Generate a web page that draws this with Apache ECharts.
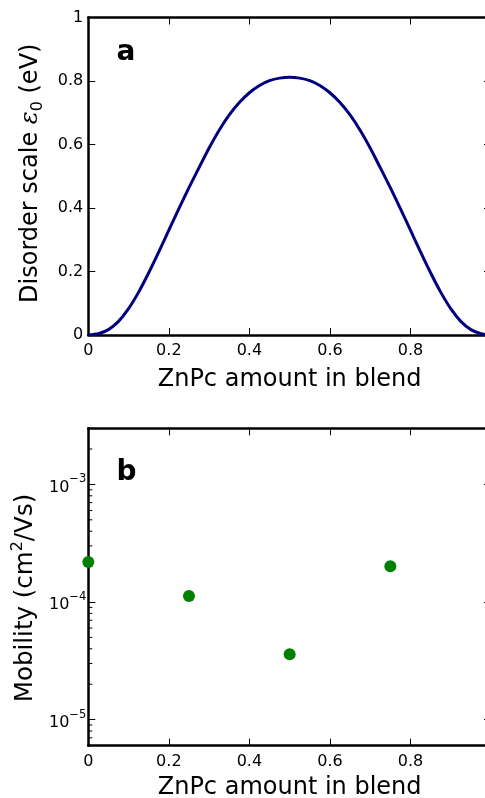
<!DOCTYPE html>
<html><head><meta charset="utf-8">
<script src="https://cdn.jsdelivr.net/npm/echarts@6/dist/echarts.min.js"></script>
<style>html,body{margin:0;padding:0;background:#fff}#c{width:485px;height:798px}</style>
</head><body><div id="c"></div>
<script>
// ---- data ----
const blendX = [0,0.025,0.05,0.075,0.1,0.125,0.15,0.175,0.2,0.225,0.25,0.275,0.3,0.325,0.35,0.375,0.4,0.425,0.45,0.475,0.5,
  0.525,0.55,0.575,0.6,0.625,0.65,0.675,0.7,0.725,0.75,0.775,0.8,0.825,0.85,0.875,0.9,0.925,0.95,0.975,1];
const disorder = [0,0.004,0.017,0.043,0.083,0.135,0.196,0.262,0.330,0.398,0.464,0.527,0.589,0.645,0.693,0.732,0.763,0.786,0.801,0.809,0.812,
  0.809,0.801,0.786,0.763,0.732,0.693,0.645,0.589,0.527,0.464,0.398,0.330,0.262,0.196,0.135,0.083,0.043,0.017,0.004,0];
const mobilityX = [0,0.25,0.5,0.75];
const mobility = [2.19e-4,1.125e-4,3.6e-5,2.01e-4];
const xTickLabels = ['0','0.2','0.4','0.6','0.8','1'];
const disorderTickLabels = ['0','0.2','0.4','0.6','0.8','1'];
const mobilityMinorTicks = [7e-6,8e-6,9e-6,2e-5,3e-5,4e-5,5e-5,6e-5,7e-5,8e-5,9e-5,
  2e-4,3e-4,4e-4,5e-4,6e-4,7e-4,8e-4,9e-4,2e-3];

const FONT = 'DejaVu Sans';
const chart = echarts.init(document.getElementById('c'), null, {renderer:'canvas'});

const spine = {show:true, onZero:false, lineStyle:{color:'#000', width:2.5}};
const tick = {show:true, inside:true, length:7, lineStyle:{color:'#000', width:1}};
const lbl = {color:'#000', fontSize:16, fontFamily:FONT};
const nameStyle = {color:'#000', fontSize:24, fontFamily:FONT};

function xAxisPair(grid, gap){
  return [{
    gridIndex:grid, type:'value', position:'bottom', min:0, max:1, interval:0.2,
    axisLine:spine, axisTick:tick, splitLine:{show:false},
    axisLabel:Object.assign({margin:8, showMaxLabel:false,
      formatter:(v)=>xTickLabels[Math.round(v/0.2)]}, lbl),
    name:'ZnPc amount in blend', nameLocation:'middle', nameGap:gap, nameTextStyle:nameStyle
  },{
    gridIndex:grid, type:'value', position:'top', min:0, max:1, interval:0.2,
    axisLine:spine, axisTick:tick, axisLabel:{show:false}, splitLine:{show:false}
  }];
}

const option = {
  animation:false,
  backgroundColor:'#fff',
  grid:[
    {left:88.3, top:17.5, right:-6, height:317.5, containLabel:false, outerBoundsMode:'none'},
    {left:88.3, top:428.3, right:-6, height:317.4, containLabel:false, outerBoundsMode:'none'}
  ],
  xAxis:[].concat(xAxisPair(0, 33), xAxisPair(1, 30)),
  yAxis:[
    {gridIndex:0, type:'value', position:'left', min:0, max:1, interval:0.2,
      axisLine:spine, axisTick:tick, splitLine:{show:false},
      axisLabel:Object.assign({margin:5, formatter:(v)=>disorderTickLabels[Math.round(v/0.2)]}, lbl),
      name:'{n|Disorder scale }{e|ε}{s|0}{n| (eV)}', nameLocation:'middle', nameGap:42, nameRotate:90,
      nameTextStyle:Object.assign({padding:[0,0,0,6], rich:{
        n:{fontSize:24, fontFamily:FONT, color:'#000', verticalAlign:'bottom', padding:[4,0,4,0]},
        e:{fontSize:24, fontFamily:'DejaVu Serif', fontStyle:'italic', color:'#000', verticalAlign:'bottom', padding:[4,0,4,0]},
        s:{fontSize:16, fontFamily:FONT, color:'#000', verticalAlign:'bottom', padding:[0,0,0,0]}
      }}, nameStyle)},
    {gridIndex:0, type:'value', position:'right', min:0, max:1, interval:0.2,
      axisLine:spine, axisTick:tick, axisLabel:{show:false}, splitLine:{show:false}},
    {gridIndex:1, type:'log', logBase:10, position:'left', min:6e-6, max:3e-3,
      axisLine:spine, axisTick:tick, splitLine:{show:false},
      axisLabel:{margin:2, showMinLabel:false, showMaxLabel:false,
        formatter:(v)=>'{b|10}{s|−' + Math.abs(Math.round(Math.log10(v))) + '}',
        rich:{
          b:{fontSize:16, fontFamily:FONT, color:'#000', verticalAlign:'bottom'},
          s:{fontSize:11.5, fontFamily:FONT, color:'#000', verticalAlign:'bottom', padding:[0,0,10,0]}
        }},
      name:'{n|Mobility (cm}{s|2}{n|/Vs)}', nameLocation:'middle', nameGap:50, nameRotate:90,
      nameTextStyle:Object.assign({padding:[0,22,0,0], rich:{
        n:{fontSize:24.5, fontFamily:FONT, color:'#000', verticalAlign:'bottom'},
        s:{fontSize:16, fontFamily:FONT, color:'#000', verticalAlign:'bottom', padding:[0,0,12,0]}
      }}, nameStyle)},
    {gridIndex:1, type:'log', logBase:10, position:'right', min:6e-6, max:3e-3,
      axisLine:spine, axisTick:tick, axisLabel:{show:false}, splitLine:{show:false}}
  ],
  series:[
    {type:'line', xAxisIndex:0, yAxisIndex:0, data:blendX.map((x,i)=>[x,disorder[i]]),
      showSymbol:false, smooth:0.25, lineStyle:{color:'#000080', width:3}, z:3},
    {type:'scatter', xAxisIndex:2, yAxisIndex:2, data:mobilityX.map((x,i)=>[x,mobility[i]]),
      symbol:'circle', symbolSize:12, itemStyle:{color:'#008000', opacity:1}, clip:false, z:5},
    {type:'custom', xAxisIndex:2, yAxisIndex:2, data:mobilityMinorTicks.map(v=>[0,v]), silent:true, clip:false,
      renderItem:function(params, api){
        const v = api.value(1);
        const p = api.coord([0, v]);
        return {type:'line', shape:{x1:p[0], y1:p[1], x2:p[0]+4, y2:p[1]}, style:{stroke:'#000', lineWidth:1}};
      }}
  ],
  graphic:[
    {type:'text', left:116.5, top:39, style:{text:'a', fontSize:28, fontWeight:'bold', fontFamily:FONT, fill:'#000'}},
    {type:'text', left:116.5, top:459, style:{text:'b', fontSize:28, fontWeight:'bold', fontFamily:FONT, fill:'#000'}}
  ]
};
chart.setOption(option);
</script></body></html>
